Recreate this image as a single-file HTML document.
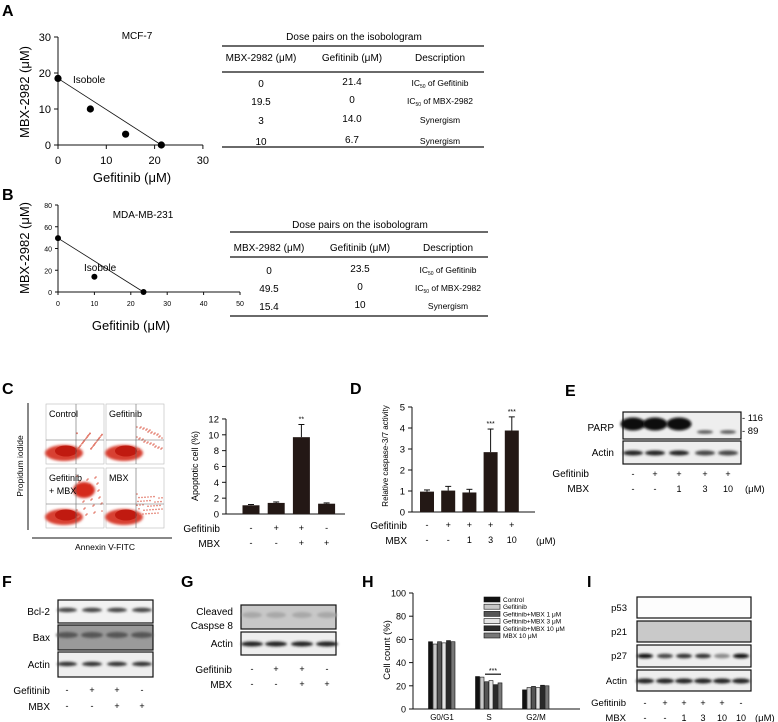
<!DOCTYPE html>
<html><head><meta charset="utf-8"><style>
html,body{margin:0;padding:0;background:#fff;}
svg{display:block;font-family:"Liberation Sans",Arial,sans-serif;}
</style></head><body>
<svg id="fig" width="778" height="722" viewBox="0 0 778 722" xmlns="http://www.w3.org/2000/svg">
<defs>
<filter id="blur1" x="-20%" y="-50%" width="140%" height="200%"><feGaussianBlur stdDeviation="1.2"/></filter>
<filter id="blur2" x="-20%" y="-50%" width="140%" height="200%"><feGaussianBlur stdDeviation="2"/></filter>
</defs>
<g font-weight="bold" font-size="16">
<text x="2" y="16">A</text>
<text x="2" y="200">B</text>
<text x="2" y="394">C</text>
<text x="350" y="394">D</text>
<text x="565" y="396">E</text>
<text x="2" y="587">F</text>
<text x="181" y="587">G</text>
<text x="362" y="587">H</text>
<text x="587" y="587">I</text>
</g>
<g id="root"></g>
</svg>
<script>
// ---- data ----
const aGef = [0, 6.7, 14, 21.4];
const aMbx = [18.5, 10, 3, 0];
const aTicks = [0, 10, 20, 30];
const bGef = [0, 10, 23.5];
const bMbx = [49.5, 14, 0];
const bXTicks = [0, 10, 20, 30, 40, 50];
const bYTicks = [0, 20, 40, 60, 80];
const tableARows = [["0","21.4","IC50 of Gefitinib"],["19.5","0","IC50 of MBX-2982"],["3","14.0","Synergism"],["10","6.7","Synergism"]];
const tableBRows = [["0","23.5","IC50 of Gefitinib"],["49.5","0","IC50 of MBX-2982"],["15.4","10","Synergism"]];
const cValues = [1.1, 1.4, 9.7, 1.3];
const cErrors = [0.1, 0.12, 1.6, 0.1];
const cTicks = [0, 2, 4, 6, 8, 10, 12];
const cGef = ["-","+","+","-"];
const cMbx = ["-","-","+","+"];
const dValues = [0.97, 1.02, 0.93, 2.85, 3.88];
const dErrors = [0.08, 0.2, 0.15, 1.1, 0.65];
const dTicks = [0, 1, 2, 3, 4, 5];
const dGef = ["-","+","+","+","+"];
const dMbx = ["-","-","1","3","10"];
const hGroups = ["G0/G1","S","G2/M"];
const hSeries = ["Control","Gefitinib","Gefitinib+MBX 1 μM","Gefitinib+MBX 3 μM","Gefitinib+MBX 10 μM","MBX 10 μM"];
const hG0 = [58, 56, 58, 57, 59, 58];
const hS = [28, 27.5, 23.5, 24.5, 21, 22.5];
const hG2 = [16.5, 18.5, 19.5, 18.5, 20.5, 20];
const hTicks = [0, 20, 40, 60, 80, 100];

// ---- helpers ----
const NS = "http://www.w3.org/2000/svg";
const root = document.getElementById("root");
function mk(tag, attrs, parent) {
  const e = document.createElementNS(NS, tag);
  for (const k in attrs) e.setAttribute(k, attrs[k]);
  (parent || root).appendChild(e);
  return e;
}
function txt(x, y, s, size, anchor, parent) {
  const t = mk("text", {x: x, y: y, "font-size": size, "text-anchor": anchor || "start"}, parent);
  t.textContent = s;
  return t;
}
function ln(x1, y1, x2, y2, w, parent) {
  return mk("line", {x1: x1, y1: y1, x2: x2, y2: y2, stroke: "#111", "stroke-width": w || 1}, parent);
}

// ===== Panel A =====
const ax = v => 58 + v * 4.83;
const ay = v => 145 - v * 3.6;
let e;
e = ln(ax(0), ay(30), ax(0), ay(0));  
e = ln(ax(0), ay(0), ax(30), ay(0));  
aTicks.forEach(t => {
  ln(ax(0) - 4, ay(t), ax(0), ay(t));
  e = txt(ax(0) - 7, ay(t) + 4, String(t), 11, "end");
   
  ln(ax(t), ay(0), ax(t), ay(0) + 4);
  e = txt(ax(t), 164, String(t), 11, "middle");
   
});
e = txt(132, 182, "Gefitinib (μM)", 13, "middle");  
e = txt(0, 0, "MBX-2982 (μM)", 13, "middle"); e.setAttribute("transform", "translate(29,92) rotate(-90)");
 
e = txt(137, 39, "MCF-7", 10, "middle");  
e = ln(ax(aGef[0]), ay(aMbx[0]), ax(aGef[3]), ay(aMbx[3]), 0.8);  
e = txt(73, 83, "Isobole", 10);  
aGef.forEach((g, i) => {
  const c = mk("circle", {cx: ax(g), cy: ay(aMbx[i]), r: 3.6, fill: "#000"});
  
  
});

// ===== Panel B =====
const bx = v => 58 + v * 3.64;
const by = v => 292 - v * 1.0875;
e = ln(bx(0), by(80), bx(0), by(0));  
e = ln(bx(0), by(0), bx(50), by(0));  
bYTicks.forEach(t => {
  ln(bx(0) - 3, by(t), bx(0), by(t));
  e = txt(bx(0) - 6, by(t) + 3, String(t), 7, "end");
   
});
bXTicks.forEach(t => {
  ln(bx(t), by(0), bx(t), by(0) + 3);
  e = txt(bx(t), 306, String(t), 7, "middle");
   
});
e = txt(131, 330, "Gefitinib (μM)", 13, "middle");  
e = txt(0, 0, "MBX-2982 (μM)", 13, "middle"); e.setAttribute("transform", "translate(29,248) rotate(-90)");
 
e = txt(143, 218, "MDA-MB-231", 10, "middle");  
e = ln(bx(bGef[0]), by(bMbx[0]), bx(bGef[2]), by(bMbx[2]), 0.8);  
e = txt(84, 271, "Isobole", 10);  
bGef.forEach((g, i) => {
  const c = mk("circle", {cx: bx(g), cy: by(bMbx[i]), r: 3, fill: "#000"});
  
  
});

// ===== Tables =====
function ic50(x, y, s, parent) {
  const t = mk("text", {x: x, y: y, "font-size": 8.5, "text-anchor": "middle"}, parent);
  if (s.startsWith("IC50")) {
    const a = mk("tspan", {}, t); a.textContent = "IC";
    const b = mk("tspan", {"font-size": 5, dy: 2}, t); b.textContent = "50";
    const c = mk("tspan", {dy: -2}, t); c.textContent = s.slice(4);
  } else t.textContent = s;
  return t;
}
function table(x0, x1, titleY, top, headY, headLine, rowYs, bottom, rows, name) {
  const g = mk("g", {});
  
  
  const cols = [x0 + 39, x0 + 130, x0 + 218];
  txt((x0 + x1) / 2 + 1, titleY, "Dose pairs on the isobologram", 10, "middle", g);
  ln(x0, top, x1, top, 1.2, g);
  txt(cols[0], headY, "MBX-2982 (μM)", 10, "middle", g);
  txt(cols[1], headY, "Gefitinib  (μM)", 10, "middle", g);
  txt(cols[2], headY, "Description", 10, "middle", g);
  ln(x0, headLine, x1, headLine, 1.2, g);
  rows.forEach((r, i) => {
    txt(cols[0], rowYs[i], r[0], 10, "middle", g);
    txt(cols[1], rowYs[i] - 2, r[1], 10, "middle", g);
    ic50(cols[2], rowYs[i] - 1, r[2], g);
  });
  ln(x0, bottom, x1, bottom, 1.2, g);
}
table(222, 484, 40, 46, 61, 72, [87, 105, 124, 145], 147, tableARows, "table-a");
table(230, 488, 228, 232, 251, 257, [274, 292, 310], 316, tableBRows, "table-b");

// ===== Panel C flow plots =====
e = ln(28, 403, 28, 530, 1);  
e = ln(32, 538, 172, 538, 1);  
e = txt(105, 550, "Annexin V-FITC", 8.5, "middle");  
e = txt(0, 0, "Propidum iodide", 8.5, "middle"); e.setAttribute("transform", "translate(23,466) rotate(-90)");
 
const flows = [[44, 404, "Control", 0.3], [104, 404, "Gefitinib", 0.5], [44, 468, "Gefitinib\n+ MBX", 1], [104, 468, "MBX", 0.4]];
flows.forEach((f, k) => {
  const g = mk("g", {});
  
  
  const [x, y, lbl, up] = f;
  mk("rect", {x: x + 2, y: y, width: 58, height: 60, fill: "none", stroke: "#bbb", "stroke-width": 0.6}, g);
  mk("ellipse", {cx: x + 20, cy: y + 49, rx: 19, ry: 8, fill: "#d84030", filter: "url(#blur1)"}, g);
  mk("ellipse", {cx: x + 22, cy: y + 47, rx: 11, ry: 5.5, fill: "#c01a10"}, g);
  for (let i = 0; i < 40; i++) {
    const px = x + 33 + ((i * 37) % 26);
    const py = y + 8 + ((i * 53) % (36 * up + 6)) ;
    mk("circle", {cx: px, cy: py + (1 - up) * 30, r: 0.8, fill: "#e07060"}, g);
  }
  if (k === 2) mk("ellipse", {cx: x + 40, cy: y + 22, rx: 11, ry: 8, fill: "#d42a1a", filter: "url(#blur1)"}, g);
  ln(x + 2, y + 36, x + 60, y + 36, 0.6, g).setAttribute("stroke", "#666");
  ln(x + 32, y, x + 32, y + 60, 0.6, g).setAttribute("stroke", "#666");
  lbl.split("\n").forEach((s, j) => txt(x + 5, y + 13 + j * 13, s, 9, "start", g));
});

// ===== Panel C bar chart =====
const cy = v => 514 - v * 7.92;
const cx = i => 251 + i * 25.2;
e = ln(226, cy(12), 226, cy(0));  
e = ln(226, cy(0), 345, cy(0));  
cTicks.forEach(t => {
  ln(222, cy(t), 226, cy(t));
  e = txt(219, cy(t) + 3.5, String(t), 9.5, "end");
   
});
e = txt(0, 0, "Apoptotic cell (%)", 9, "middle"); e.setAttribute("transform", "translate(198,466) rotate(-90)");
 
cValues.forEach((v, i) => {
  ln(cx(i), cy(v), cx(i), cy(v + cErrors[i]));
  ln(cx(i) - 3, cy(v + cErrors[i]), cx(i) + 3, cy(v + cErrors[i]));
  const r = mk("rect", {x: cx(i) - 8.5, y: cy(v), width: 17, height: cy(0) - cy(v), fill: "#231815"});
  
  
  txt(cx(i), 531, cGef[i], 9, "middle");
  txt(cx(i), 546, cMbx[i], 9, "middle");
});
e = txt(cx(2), cy(cValues[2] + cErrors[2]) - 3, "**", 7, "middle");  
e = txt(220, 532, "Gefitinib", 10, "end");  
e = txt(220, 547, "MBX", 10, "end");  

// ===== Panel D =====
const dy = v => 512 - v * 21;
const dx = i => 427 + i * 21.2;
e = ln(412, dy(5), 412, dy(0));  
e = ln(412, dy(0), 535, dy(0));  
dTicks.forEach(t => {
  ln(408, dy(t), 412, dy(t));
  e = txt(405, dy(t) + 3.5, String(t), 9.5, "end");
   
});
e = txt(0, 0, "Relative caspase-3/7 activity", 8, "middle"); e.setAttribute("transform", "translate(388,456) rotate(-90)");
 
dValues.forEach((v, i) => {
  ln(dx(i), dy(v), dx(i), dy(v + dErrors[i]));
  ln(dx(i) - 3, dy(v + dErrors[i]), dx(i) + 3, dy(v + dErrors[i]));
  const r = mk("rect", {x: dx(i) - 7, y: dy(v), width: 14, height: dy(0) - dy(v), fill: "#231815"});
  
  
  txt(dx(i), 528, dGef[i], 9, "middle");
  txt(dx(i), 543, dMbx[i], 9, "middle");
  if (i >= 3) {
    const s = txt(dx(i), dy(v + dErrors[i]) - 3, "***", 7, "middle");
    
    
  }
});
e = txt(407, 529, "Gefitinib", 10, "end");  
e = txt(407, 544, "MBX", 10, "end");  
e = txt(536, 544, "(μM)", 9.5, "start");  

// ===== Blot helper =====
function blot(x, y, w, h, bg, lanes, bands, name) {
  const g = mk("g", {});
  
  
  mk("rect", {x: x, y: y, width: w, height: h, fill: bg, stroke: "#111", "stroke-width": 1.2}, g);
  bands.forEach(b => {
    const [lx, by_, rw, rh, col] = b;
    mk("ellipse", {cx: lx, cy: y + by_, rx: rw, ry: rh, fill: col, filter: "url(#blur1)"}, g);
  });
  return g;
}
function lanesBands(xs, yOff, rw, rh, cols) { return xs.map((x, i) => [x, yOff, rw, rh, cols[i] || cols[0]]); }

// ===== Panel E =====
const eLanes = [633, 655, 679, 705, 728];
blot(623, 412, 118, 27, "#eee", eLanes,
  lanesBands(eLanes.slice(0, 3), 12, 12.5, 6.5, ["#0a0a0a"]).concat(lanesBands(eLanes.slice(3), 20, 8, 1.8, ["#555"])),
  "e-parp-blot");
blot(623, 441, 118, 23, "#eee", eLanes, lanesBands(eLanes, 12, 10, 2.5, ["#222", "#222", "#222", "#444", "#444"]), "e-actin-blot");
txt(614, 431, "PARP", 10, "end"); txt(614, 456, "Actin", 10, "end");
txt(742, 421, "- 116", 9.5); txt(742, 434, "- 89", 9.5);
e = txt(589, 477, "Gefitinib", 10, "end");  
e = txt(589, 492, "MBX", 10, "end");  
dGef.forEach((s, i) => { txt(eLanes[i], 477, s, 9, "middle"); txt(eLanes[i], 492, dMbx[i], 9, "middle"); });
txt(745, 492, "(μM)", 9.5);

// ===== Panel F =====
const fLanes = [67, 92, 117, 142];
blot(58, 600, 95, 23, "#f2f2f2", fLanes, lanesBands(fLanes, 10, 10, 2.2, ["#444"]), "f-bcl2-blot");
blot(58, 625, 95, 25, "#9a9a9a", fLanes, lanesBands(fLanes, 10, 11, 3, ["#555"]), "f-bax-blot");
blot(58, 652, 95, 25, "#eee", fLanes, lanesBands(fLanes, 12, 10, 2.2, ["#333"]), "f-actin-blot");
txt(50, 615, "Bcl-2", 10, "end"); txt(50, 641, "Bax", 10, "end"); txt(50, 668, "Actin", 10, "end");
txt(50, 694, "Gefitinib", 10, "end"); txt(50, 710, "MBX", 10, "end");
cGef.forEach((s, i) => { txt(fLanes[i], 693, s, 9, "middle"); txt(fLanes[i], 709, cMbx[i], 9, "middle"); });

// ===== Panel G =====
const gLanes = [252, 276, 302, 327];
blot(241, 605, 95, 24, "#c8c8c8", gLanes, lanesBands(gLanes, 10, 10, 3, ["#a8a8a8"]), "g-caspase8-blot");
blot(241, 632, 95, 23, "#eee", gLanes, lanesBands(gLanes, 12, 11, 2.5, ["#222"]), "g-actin-blot");
txt(233, 615, "Cleaved", 10, "end"); txt(233, 629, "Caspse 8", 10, "end"); txt(233, 647, "Actin", 10, "end");
txt(232, 673, "Gefitinib", 10, "end"); txt(232, 688, "MBX", 10, "end");
cGef.forEach((s, i) => { txt(gLanes[i], 672, s, 9, "middle"); txt(gLanes[i], 687, cMbx[i], 9, "middle"); });

// ===== Panel H =====
const hy = v => 709 - v * 1.16;
const hCenters = [442, 489, 536];
const hColors = ["#111", "#c8c8c8", "#555", "#e4e4e4", "#2a2a2a", "#777"];
const hData = [hG0, hS, hG2];
e = ln(413, hy(100), 413, hy(0));  
e = ln(413, hy(0), 580, hy(0));  
hTicks.forEach(t => {
  ln(409, hy(t), 413, hy(t));
  e = txt(406, hy(t) + 3.5, String(t), 9, "end");
   
});
e = txt(0, 0, "Cell count (%)", 9.5, "middle"); e.setAttribute("transform", "translate(390,650) rotate(-90)");
 
hGroups.forEach((gname, gi) => {
  const t = txt(hCenters[gi], 720, gname, 8, "middle");
  
  
  hData[gi].forEach((v, si) => {
    const x = hCenters[gi] - 13.5 + si * 4.5;
    const r = mk("rect", {x: x, y: hy(v), width: 4, height: hy(0) - hy(v), fill: hColors[si], stroke: "#111", "stroke-width": 0.6});
    
    
  });
});
e = ln(hCenters[1] - 4, hy(30), hCenters[1] + 12, hy(30), 1.2);  
e = txt(hCenters[1] + 4, hy(31), "***", 7, "middle");  
hSeries.forEach((s, i) => {
  const g = mk("g", {});
  
  
  mk("rect", {x: 484, y: 597 + i * 7.2, width: 16, height: 5, fill: hColors[i], stroke: "#111", "stroke-width": 0.6}, g);
  txt(503, 602 + i * 7.2, s, 6.5, "start", g);
});

// ===== Panel I =====
const iLanes = [645, 665, 684, 703, 722, 741];
const iGef = ["-","+","+","+","+","-"];
const iMbx = ["-","-","1","3","10","10"];
blot(637, 597, 114, 21, "#fdfdfd", iLanes, [], "i-p53-blot");
blot(637, 621, 114, 21, "#c9c9c9", iLanes, [], "i-p21-blot");
blot(637, 645, 114, 22, "#eee", iLanes, lanesBands(iLanes, 11, 8, 2.3, ["#111", "#444", "#333", "#333", "#888", "#111"]), "i-p27-blot");
blot(637, 670, 114, 21, "#eee", iLanes, lanesBands(iLanes, 11, 9, 2.5, ["#222"]), "i-actin-blot");
txt(627, 611, "p53", 9.5, "end"); txt(627, 635, "p21", 9.5, "end"); txt(627, 659, "p27", 9.5, "end"); txt(627, 684, "Actin", 9.5, "end");
txt(626, 706, "Gefitinib", 9.5, "end"); txt(626, 721, "MBX", 9.5, "end");
iGef.forEach((s, i) => { txt(iLanes[i], 706, s, 9, "middle"); txt(iLanes[i], 721, iMbx[i], 9, "middle"); });
txt(755, 721, "(μM)", 9.5);
</script>
</body></html>
